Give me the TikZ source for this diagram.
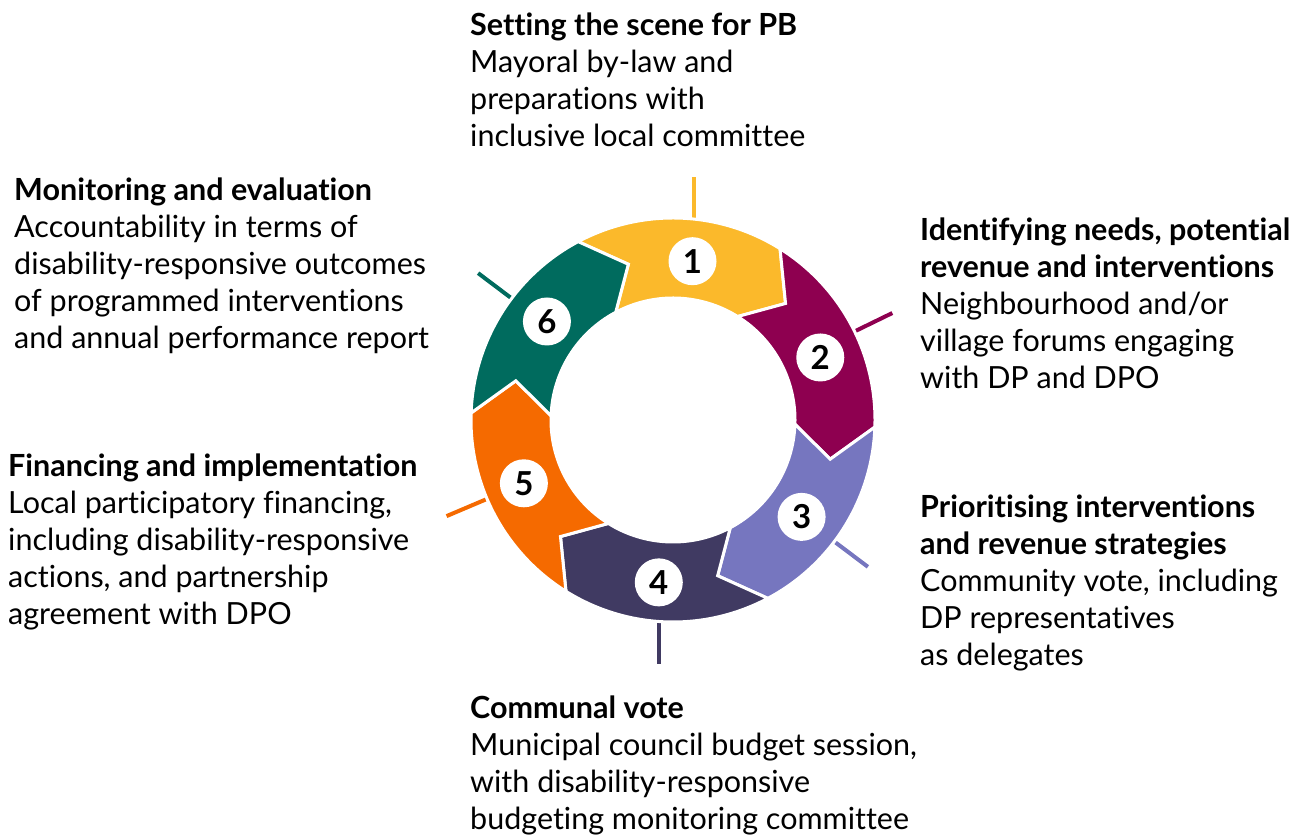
\documentclass[tikz,border=0pt]{standalone}
\usepackage{fontspec}
\setmainfont{Lato}[Ligatures={NoCommon,NoDiscretionary}]
\definecolor{cyel}{HTML}{FBB92B}
\definecolor{cber}{HTML}{8E0050}
\definecolor{clav}{HTML}{7676BF}
\definecolor{cpur}{HTML}{403A62}
\definecolor{cora}{HTML}{F56A00}
\definecolor{ctea}{HTML}{006B5E}
\tikzset{
  seg/.style={fill=#1, draw=white, line width=3pt, line join=miter},
  tick/.style={draw=#1, line width=4pt},
  num/.style={circle, fill=white, minimum size=48pt, inner sep=0pt, font=\fontsize{33pt}{34pt}\selectfont\bfseries},
  lbl/.style={anchor=base west, inner sep=0pt, font=\fontsize{30.5pt}{37pt}\selectfont}
}
\newcommand{\ringseg}[2]{%
  \path[seg=#2] (#1:202pt) arc[start angle=#1, end angle=#1-60, radius=202pt]
    -- (#1-72:162pt) -- (#1-60:122pt)
    arc[start angle=#1-60, end angle=#1, radius=122pt]
    -- (#1-12:162pt) -- cycle;}
\begin{document}
\begin{tikzpicture}[x=1pt,y=1pt]
\path[use as bounding box] (0,0) rectangle (1309,837);
\begin{scope}[shift={(673,417)}]
  % ticks
  \coordinate (k1) at (84:200pt);
  \coordinate (k4) at (-94:200pt);
  \draw[tick=cyel] (k1) -- ++(0,44pt);
  \draw[tick=cber] (26:200pt) -- (26:244pt);
  \draw[tick=clav] (-37:200pt) -- (-37:244pt);
  \draw[tick=cpur] (k4) -- ++(0,-44pt);
  \draw[tick=cora] (-157:200pt) -- (-157:246pt);
  \draw[tick=ctea] (143:200pt) -- (143:244pt);
  % segments
  \ringseg{118}{cyel}
  \ringseg{58}{cber}
  \ringseg{-2}{clav}
  \ringseg{-62}{cpur}
  \ringseg{-122}{cora}
  \ringseg{-182}{ctea}
  % numbers
  \node[num] (n1) at (83:160pt) {1};
  \node[num] (n2) at (23:160pt) {2};
  \node[num] (n3) at (-37:161pt) {3};
  \node[num] (n4) at (-95:163pt) {4};
  \node[num] (n5) at (-157:162pt) {5};
  \node[num] (n6) at (142:160pt) {6};
\end{scope}
% labels
\node[lbl] (t1) at (470,801) {\begin{tabular}[t]{@{}l@{}}\textbf{Setting the scene for PB}\\Mayoral by-law and\\preparations with\\inclusive local committee\end{tabular}};
\node[lbl] (t6) at (14,636) {\begin{tabular}[t]{@{}l@{}}\textbf{Monitoring and evaluation}\\Accountability in terms of\\disability-responsive outcomes\\of programmed interventions\\and annual performance report\end{tabular}};
\node[lbl] (t2) at (920,596) {\begin{tabular}[t]{@{}l@{}}\textbf{Identifying needs, potential}\\\textbf{revenue and interventions}\\Neighbourhood and/or\\village forums engaging\\with DP and DPO\end{tabular}};
\node[lbl] (t5) at (8,360) {\begin{tabular}[t]{@{}l@{}}\textbf{Financing and implementation}\\Local participatory financing,\\including disability-responsive\\actions, and partnership\\agreement with DPO\end{tabular}};
\node[lbl] (t3) at (920,319) {\begin{tabular}[t]{@{}l@{}}\textbf{Prioritising interventions}\\\textbf{and revenue strategies}\\Community vote, including\\DP representatives\\as delegates\end{tabular}};
\node[lbl] (t4) at (470,118) {\begin{tabular}[t]{@{}l@{}}\textbf{Communal vote}\\Municipal council budget session,\\with disability-responsive\\budgeting monitoring committee\end{tabular}};
\end{tikzpicture}
\end{document}
